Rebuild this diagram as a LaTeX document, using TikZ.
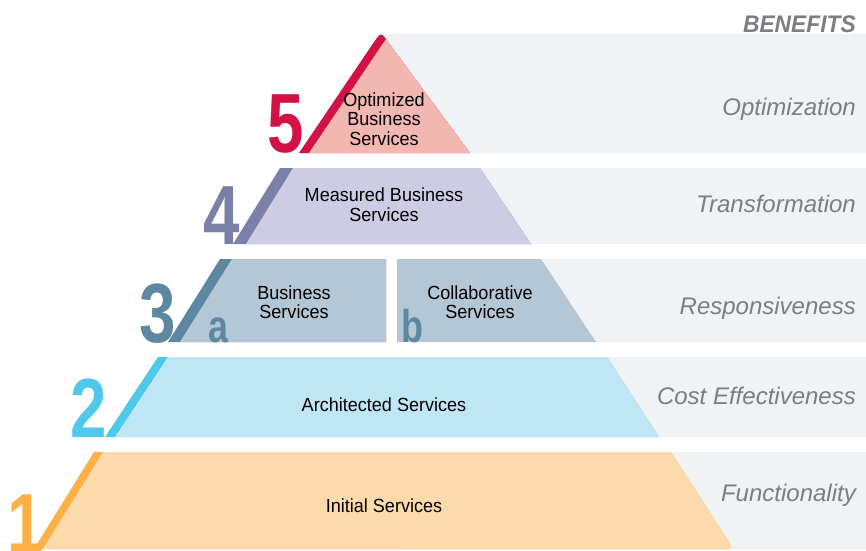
\documentclass[tikz,border=0pt]{standalone}
\usepackage{fontspec}
\setmainfont{Liberation Sans}
\newfontfamily\digitfont{Liberation Sans}[FakeStretch=0.78]
\newfontfamily\labelfont{Liberation Sans}[FakeStretch=0.95]
\newfontfamily\benfont{Liberation Sans}[FakeStretch=1.0]
\newfontfamily\headfont{Liberation Sans}[FakeStretch=0.95]
\definecolor{bandgrey}{HTML}{F1F2F4}
\definecolor{textgrey}{HTML}{7D7E81}
\definecolor{darkV}{HTML}{D31145}
\definecolor{lightV}{HTML}{F3B7B2}
\definecolor{darkIV}{HTML}{7B80A8}
\definecolor{lightIV}{HTML}{CDCCE4}
\definecolor{darkIII}{HTML}{5E87A2}
\definecolor{lightIII}{HTML}{B4C7D6}
\definecolor{darkII}{HTML}{4FC8EA}
\definecolor{lightII}{HTML}{BFE6F5}
\definecolor{darkI}{HTML}{FDB045}
\definecolor{lightI}{HTML}{FDDAAB}
\tikzset{
  pathV/.style={insert path={(299,153) -- (374,42) .. controls (381,32) .. (388,42) -- (470,153) -- cycle}},
  pathIV/.style={insert path={(233,244) -- (280,168) -- (480,168) -- (531,244) -- cycle}},
  pathIIIa/.style={insert path={(168,342) -- (220,259) -- (386,259) -- (386,342) -- cycle}},
  pathIIIb/.style={insert path={(397,259) -- (541,259) -- (596,342) -- (397,342) -- cycle}},
  pathII/.style={insert path={(105,437) -- (158,357) -- (607,357) -- (659,437) -- cycle}},
  pathI/.style={insert path={(34,549) -- (94,452) -- (671,452) -- (725,536) .. controls (734,549) .. (719,549) -- cycle}},
  digit/.style={inner sep=0pt, anchor=base east, font=\digitfont\bfseries\fontsize{84}{84}\selectfont},
  sublet/.style={inner sep=0pt, anchor=base west, text=darkIII, font=\digitfont\bfseries\fontsize{46}{46}\selectfont},
  lbl/.style={inner sep=0pt, align=center, text=black, font=\labelfont\fontsize{19}{19.5}\selectfont},
  ben/.style={inner sep=0pt, anchor=base east, text=textgrey, font=\benfont\itshape\fontsize{24}{24}\selectfont}
}
\begin{document}
\begin{tikzpicture}[x=1pt,y=-1pt]
\useasboundingbox (0,0) rectangle (866,550);
% grey benefit bands
\fill[bandgrey] (383,34) rectangle (866,153);
\fill[bandgrey] (400,168) rectangle (866,244);
\fill[bandgrey] (400,259) rectangle (866,342);
\fill[bandgrey] (400,357) rectangle (866,437);
\fill[bandgrey] (400,452) rectangle (866,550);
% level 5
\fill[darkV, pathV];
\begin{scope}
  \clip[pathV];
  \fill[lightV, xshift=10pt, pathV];
\end{scope}
% level 4
\fill[darkIV, pathIV];
\begin{scope}
  \clip[pathIV];
  \fill[lightIV, xshift=13pt, pathIV];
\end{scope}
% level 3
\fill[darkIII, pathIIIa];
\begin{scope}
  \clip[pathIIIa];
  \fill[lightIII, xshift=12pt, pathIIIa];
\end{scope}
\fill[lightIII, pathIIIb];
% level 2
\fill[darkII, pathII];
\begin{scope}
  \clip[pathII];
  \fill[lightII, xshift=10pt, pathII];
\end{scope}
% level 1
\fill[darkI, pathI];
\begin{scope}
  \clip[pathI];
  \fill[lightI, xshift=9pt, pathI];
\end{scope}
% digits
\node[digit, text=darkV] (d5) at (304,152) {5};
\node[digit, text=darkIV] (d4) at (240,244) {4};
\node[digit, text=darkIII] (d3) at (176,342) {3};
\node[digit, text=darkII] (d2) at (107,437) {2};
\node[digit, text=darkI] (d1) at (44,552) {1};
\node[sublet] (la) at (208,342) {a};
\node[sublet] (lb) at (401,342) {b};
% labels
\node[lbl] (t5) at (384,119) {Optimized\\Business\\Services};
\node[lbl] (t4) at (384,204.5) {Measured Business\\Services};
\node[lbl] (t3a) at (294,302) {Business\\Services};
\node[lbl] (t3b) at (480,302) {Collaborative\\Services};
\node[lbl] (t2) at (384,405) {Architected Services};
\node[lbl] (t1) at (384,506) {Initial Services};
% benefits
\node[ben, font=\headfont\bfseries\itshape\fontsize{24}{24}\selectfont] (bh) at (856,32) {BENEFITS};
\node[ben] (b5) at (856,115.5) {Optimization};
\node[ben] (b4) at (856,212) {Transformation};
\node[ben] (b3) at (856,314) {Responsiveness};
\node[ben] (b2) at (856,404) {Cost Effectiveness};
\node[ben] (b1) at (856,501) {Functionality};
\end{tikzpicture}
\end{document}
